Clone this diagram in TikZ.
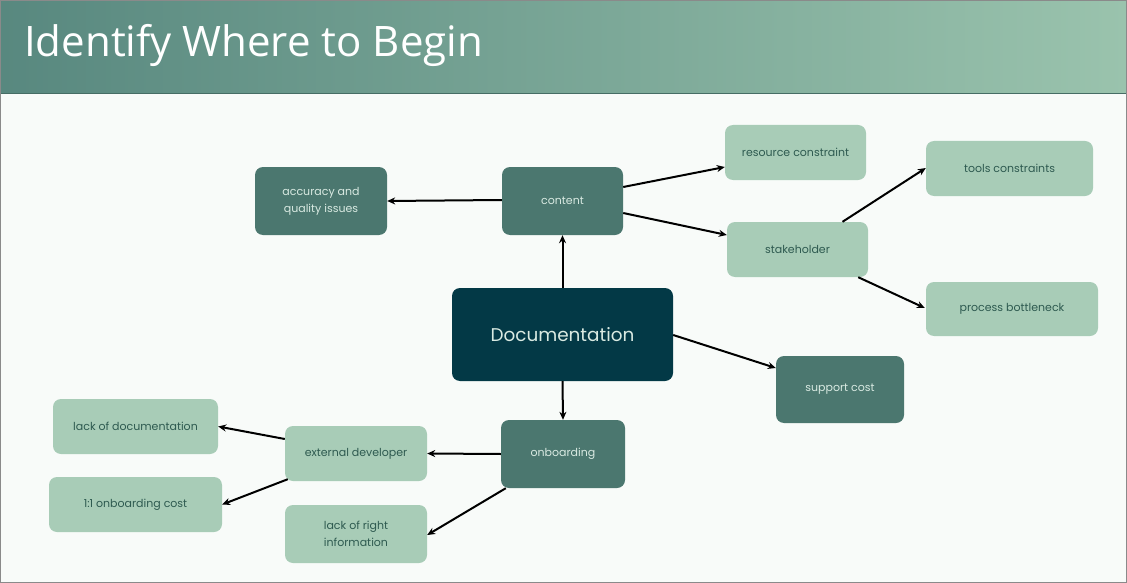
\documentclass[tikz,border=0pt]{standalone}
\usepackage{fontspec}
\setmainfont{Poppins}
\newfontfamily\titlefont{Open Sans}
\usetikzlibrary{arrows.meta}
\definecolor{bg}{HTML}{F8FBF9}
\definecolor{hdl}{HTML}{58887F}
\definecolor{hdr}{HTML}{9AC3AD}
\definecolor{darkbox}{HTML}{4B776F}
\definecolor{lightbox}{HTML}{A8CCB7}
\definecolor{lighttext}{HTML}{2E5A50}
\definecolor{darktext}{HTML}{D9EAE2}
\definecolor{docbox}{HTML}{033946}
\definecolor{frame}{HTML}{8A8A8A}
\tikzset{
  box/.style={rounded corners=8pt, inner sep=0pt, align=center, font=\fontsize{11}{17}\selectfont},
  darknode/.style={box, fill=darkbox, text=darktext},
  lightnode/.style={box, fill=lightbox, text=lighttext},
  conn/.style={line width=2pt, -{Stealth[length=8pt,width=7pt]}}
}
\begin{document}
\begin{tikzpicture}[x=1pt,y=-1pt]
\useasboundingbox (0,0) rectangle (1127,583);
\fill[bg] (0,0) rectangle (1127,583);
\shade[left color=hdl, right color=hdr] (0,0) rectangle (1127,93);
\draw[hdl!80!black, line width=0.6pt] (0,93) -- (1127,93);
\node[anchor=west, text=white, font=\titlefont\fontsize{42}{46}\selectfont, inner sep=0pt] (title) at (24,45) {Identify Where to Begin};

\node[darknode, minimum width=132pt, minimum height=68pt] (acc) at (321,201) {accuracy and\\quality issues};
\node[darknode, minimum width=121pt, minimum height=68pt] (content) at (562.5,201) {content};
\node[lightnode, minimum width=141pt, minimum height=55pt] (res) at (795.5,152.5) {resource constraint};
\node[lightnode, minimum width=167pt, minimum height=55pt] (tools) at (1009.5,168.5) {tools constraints};
\node[lightnode, minimum width=141pt, minimum height=55pt] (stake) at (797.5,249.5) {stakeholder};
\node[lightnode, minimum width=172pt, minimum height=54pt] (proc) at (1012,309) {process bottleneck};
\node[box, fill=docbox, text=darktext, font=\fontsize{18.4}{22}\selectfont, minimum width=221pt, minimum height=93pt] (doc) at (562.5,334.5) {Documentation};
\node[darknode, minimum width=128pt, minimum height=67pt] (support) at (840,389.5) {support cost};
\node[darknode, minimum width=124pt, minimum height=68pt] (onb) at (563,454) {onboarding};
\node[lightnode, minimum width=142pt, minimum height=55pt] (ext) at (356,453.5) {external developer};
\node[lightnode, minimum width=165pt, minimum height=55pt] (lackdoc) at (135.5,426.5) {lack of documentation};
\node[lightnode, minimum width=173pt, minimum height=55pt] (cost) at (135.5,504.5) {1:1 onboarding cost};
\node[lightnode, minimum width=142pt, minimum height=58pt] (right) at (356,534) {lack of right\\information};

\draw[conn] ([yshift=1pt]content.west) -- (acc.east);
\draw[conn] ([yshift=14pt]content.east) -- ([yshift=-14.5pt]res.west);
\draw[conn] ([yshift=-12pt]content.east) -- ([yshift=14.5pt]stake.west);
\draw[conn] (doc.north) -- (content.south);
\draw[conn] ([xshift=45pt]stake.north) -- ([yshift=0.5pt]tools.west);
\draw[conn] ([xshift=-10pt]stake.south east) -- ([xshift=-1pt,yshift=1pt]proc.west);
\draw[conn] ([yshift=-0.5pt]doc.east) -- ([yshift=21.5pt]support.west);
\draw[conn] (doc.south) -- (onb.north);
\draw[conn] (onb.west) -- (ext.east);
\draw[conn] ([xshift=5pt]onb.south west) -- ([yshift=-1pt]right.east);
\draw[conn] ([yshift=14.5pt]ext.west) -- (lackdoc.east);
\draw[conn] ([xshift=3pt,yshift=2pt]ext.south west) -- (cost.east);
\draw[frame, line width=1pt] (0.5,0.5) rectangle (1126.5,582.5);
\end{tikzpicture}
\end{document}
